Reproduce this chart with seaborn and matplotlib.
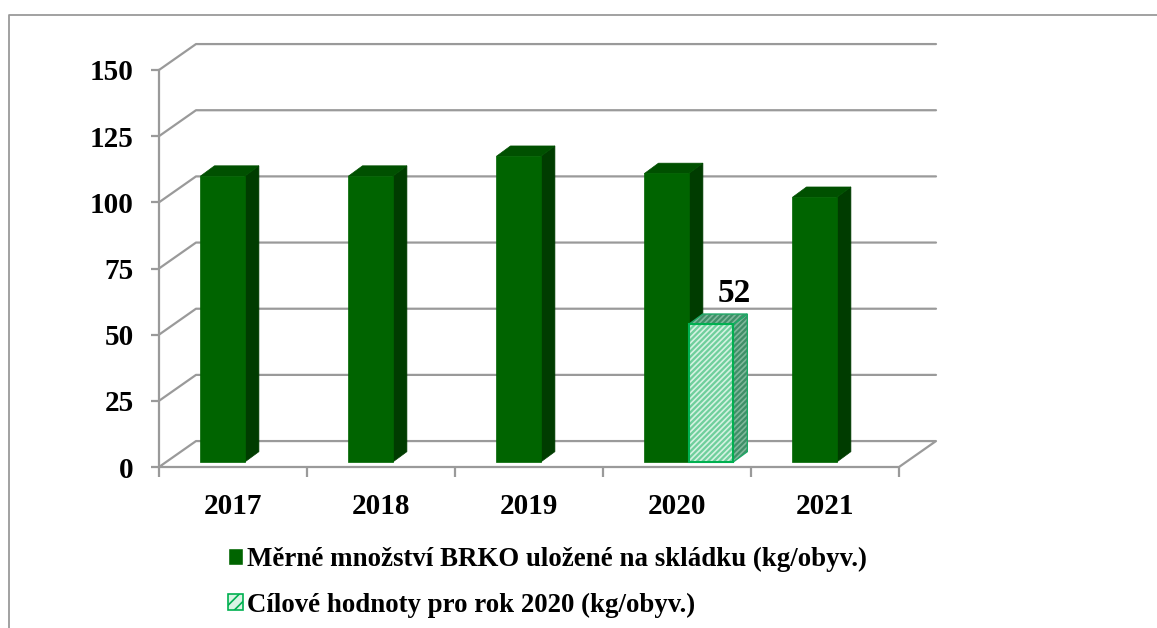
import numpy as np
import pandas as pd
import seaborn as sns
import matplotlib.pyplot as plt
from matplotlib.patches import Patch, Polygon, Rectangle

years = ["2017", "2018", "2019", "2020", "2021"]
brko = [108, 108, 115.5, 109, 100]
target = [np.nan, np.nan, np.nan, 52, np.nan]
yticks = [0, 25, 50, 75, 100, 125, 150]
name_brko = "Měrné množství BRKO uložené na skládku (kg/obyv.)"
name_target = "Cílové hodnoty pro rok 2020 (kg/obyv.)"

W, H = 1157, 628
GRAY = "#9a9a9a"

sns.set_style("white")
plt.rcParams["font.family"] = ["Liberation Serif"]
plt.rcParams["font.weight"] = "bold"
plt.rcParams["hatch.linewidth"] = 1.2
plt.rcParams["text.color"] = "black"
plt.rcParams["xtick.color"] = "black"
plt.rcParams["ytick.color"] = "black"

data = pd.DataFrame({
    "rok": years * 2,
    "serie": [name_brko] * 5 + [name_target] * 5,
    "hodnota": brko + target,
})

fig = plt.figure(figsize=(W / 100, H / 100), dpi=100)
ax = fig.add_axes([159 / W, 1 - 467 / H, 740 / W, 397 / H])

sns.barplot(data=data, x="rok", y="hodnota", hue="serie", order=years,
            hue_order=[name_brko, name_target],
            palette=["#006400", "#8fdcb3"], width=0.6, gap=0, saturation=1,
            legend=False, ax=ax)
ax.set_xlim(-0.5, 4.5)
ax.set_ylim(0, 150)

# depth of the "3d" walls and of the bars, in data units
wall_dx, wall_dy = 0.25, 9.8
bar_dx, bar_dy = 0.095, 3.9
off_x, off_y = 0.08, 1.9

# walls and gridlines
for v in yticks:
    if v == 0:
        ax.plot([-0.5, 4.5, 4.75, -0.25, -0.5], [0, 0, wall_dy, wall_dy, 0],
                color=GRAY, lw=1.6, clip_on=False, zorder=1)
    else:
        ax.plot([-0.5, -0.25, 4.75], [v, v + wall_dy, v + wall_dy],
                color=GRAY, lw=1.6, clip_on=False, zorder=1)

# bars with side and top faces
for bar in ax.patches:
    h = bar.get_height()
    bar.set_visible(False)
    if not h or np.isnan(h):
        continue
    x0 = bar.get_x() + off_x
    x1 = x0 + bar.get_width()
    y0 = off_y
    y1 = h + off_y
    side = [(x1, y0), (x1 + bar_dx, y0 + bar_dy), (x1 + bar_dx, y1 + bar_dy), (x1, y1)]
    top = [(x0, y1), (x0 + bar_dx, y1 + bar_dy), (x1 + bar_dx, y1 + bar_dy), (x1, y1)]
    if h == target[3]:
        for face in (side, top):
            ax.add_patch(Polygon(face, facecolor="#3f8f68", edgecolor="#7fb89b",
                                 hatch="//////", lw=0, zorder=3, clip_on=False))
            ax.add_patch(Polygon(face, fill=False, edgecolor="#1fa866", lw=1.0, zorder=4, clip_on=False))
        ax.add_patch(Rectangle((x0, y0), x1 - x0, h, facecolor="#6fcf9c", edgecolor="#d5f2e2",
                               hatch="//////", lw=0, zorder=3, clip_on=False))
        ax.add_patch(Rectangle((x0, y0), x1 - x0, h, fill=False, edgecolor="#00b050",
                               lw=1.5, zorder=4, clip_on=False))
        ax.text((x0 + x1) / 2 + 0.16, y1 + 5.7, "52", ha="center", va="bottom",
                fontsize=24, fontweight="bold", color="black", zorder=5)
    else:
        ax.add_patch(Polygon(side, facecolor="#003c00", edgecolor="#003c00", lw=0.5, zorder=3, clip_on=False))
        ax.add_patch(Polygon(top, facecolor="#005000", edgecolor="#005000", lw=0.5, zorder=3, clip_on=False))
        ax.add_patch(Rectangle((x0, y0), x1 - x0, h, facecolor="#006400", edgecolor="#006400",
                               lw=0.5, zorder=3, clip_on=False))

sns.despine(ax=ax, top=True, right=True, left=False, bottom=True)
ax.spines["left"].set_color(GRAY)
ax.spines["left"].set_linewidth(1.6)
ax.set_xlabel("")
ax.set_ylabel("")
ax.set_yticks(yticks)
ax.set_yticklabels([str(v) for v in yticks], fontsize=21, fontweight="bold")
ax.set_xticks(np.arange(-0.5, 5), minor=True)
ax.set_xticks(range(5))
ax.set_xticklabels(years, fontsize=21, fontweight="bold")
ax.tick_params(axis="y", length=6, width=1.6, color=GRAY, pad=12, left=True)
ax.tick_params(axis="x", which="major", length=0, pad=19)
ax.tick_params(axis="x", which="minor", length=7, width=1.6, color=GRAY, bottom=True)
ax.patch.set_alpha(0)

# outer frame of the picture
fig.add_artist(plt.Line2D([9 / W, 9 / W, 1], [0, 1 - 15 / H, 1 - 15 / H], color=GRAY, lw=1.3))

handles = [Patch(facecolor="#006400", label=name_brko),
           Patch(facecolor="#d9f3e4", edgecolor="#00b050", hatch="///", lw=1.2, label=name_target)]
fig.legend(handles=handles, loc="upper left", bbox_to_anchor=(228 / W, 1 - 547 / H), ncol=1,
           frameon=False, fontsize=19.4, handlelength=0.56, handleheight=0.56, handletextpad=0.15,
           labelspacing=0.76, borderpad=0, borderaxespad=0, labelcolor="black")

fig.savefig("out.png", dpi=100)
